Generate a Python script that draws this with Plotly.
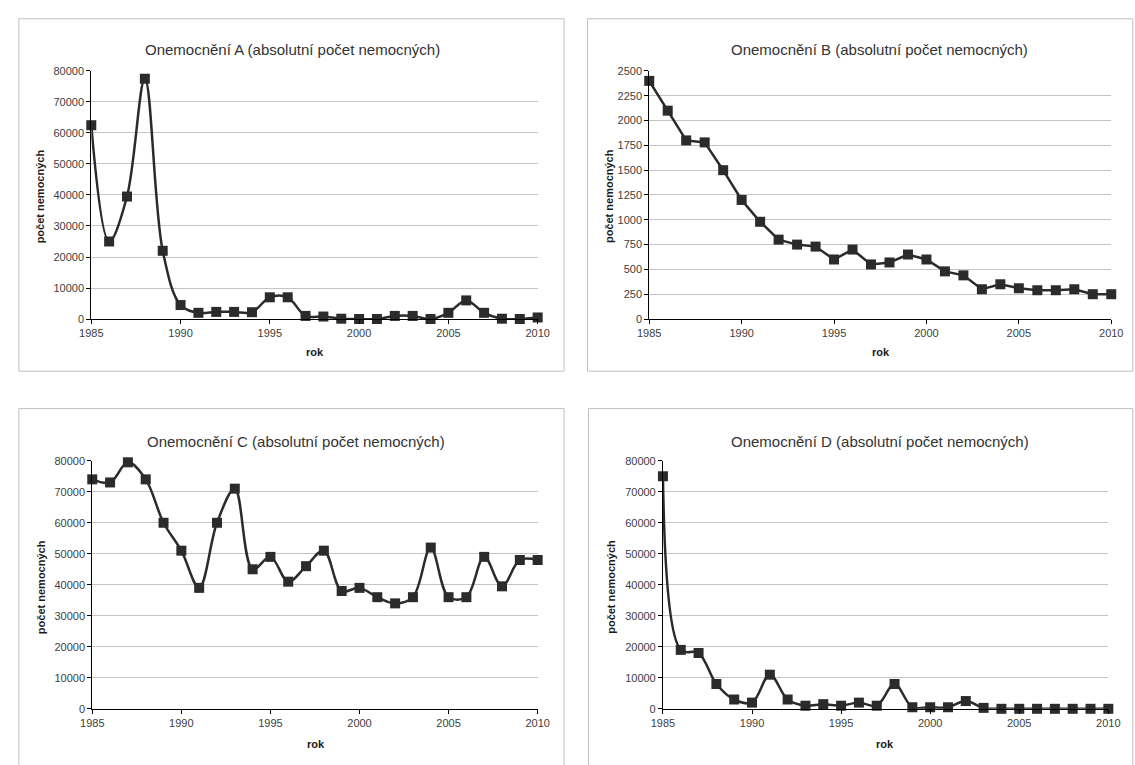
import plotly.graph_objects as go

# ---------------- data ----------------
years = list(range(1985, 2011))

values_a = [62500, 25000, 39500, 77500, 22000, 4500, 2000, 2300, 2300, 2200,
            7000, 7000, 1000, 800, 100, 0, 0, 1000, 1000, 0,
            2000, 6000, 2000, 100, 0, 500]

values_b = [2400, 2100, 1800, 1780, 1500, 1200, 980, 800, 750, 730,
            600, 700, 550, 570, 650, 600, 480, 440, 300, 350,
            310, 290, 290, 300, 250, 250]

values_c = [74000, 73000, 79500, 74000, 60000, 51000, 39000, 60000, 71000, 45000,
            49000, 41000, 46000, 51000, 38000, 39000, 36000, 34000, 36000, 52000,
            36000, 36000, 49000, 39500, 48000, 48000]

values_d = [75000, 19000, 18000, 8000, 3000, 2000, 11000, 3000, 1000, 1500,
            1000, 2000, 1000, 8000, 500, 500, 500, 2500, 300, 0,
            0, 0, 0, 0, 0, 0]

titles = ["Onemocnění A (absolutní počet nemocných)",
          "Onemocnění B (absolutní počet nemocných)",
          "Onemocnění C (absolutní počet nemocných)",
          "Onemocnění D (absolutní počet nemocných)"]
x_title = "rok"
y_title = "počet nemocných"
x_ticks = [1985, 1990, 1995, 2000, 2005, 2010]
y_max = [80000, 2500, 80000, 80000]
y_step = [10000, 250, 10000, 10000]

# ---------------- layout helpers (pixel -> paper) ----------------
W, H = 1135, 765
def px(x):
    return x / W
def py(y):
    return 1 - y / H

FONT = "Liberation Sans, Arial, sans-serif"
LINE = "#2b2b2b"

# plot area pixel boxes: (x0, x1, ytop, ybottom)
areas = [(81, 537, 66, 318), (651, 1123, 66, 318),
         (82, 537, 462, 714), (665, 1120, 462, 714)]
frames = [(7, 13, 564, 371), (588, 13, 1145, 371),
          (7, 409, 564, 775), (589, 409, 1145, 775)]
title_pos = [(287, 44), (886, 44), (290, 442), (887, 442)]
xlab_pos = [(310, 352), (888, 352), (311, 750), (892, 750)]
ylab_pos = [(29, 193), (610, 193), (29, 590), (612, 590)]
smooth = [True, False, True, True]

series = [values_a, values_b, values_c, values_d]

fig = go.Figure()
layout = dict(width=W, height=H, autosize=False,
              margin=dict(l=0, r=0, t=0, b=0),
              paper_bgcolor="white", plot_bgcolor="white",
              showlegend=False, font=dict(family=FONT, size=11, color="#404040"))

shapes = []
annotations = []
for i, (vals, area) in enumerate(zip(series, areas)):
    n = "" if i == 0 else str(i + 1)
    x0, x1, yt, yb = area
    line = dict(color=LINE, width=2.5)
    if smooth[i]:
        line.update(shape="spline", smoothing=1.0)
    fig.add_trace(go.Scatter(
        x=years, y=vals, mode="lines+markers",
        line=line,
        marker=dict(symbol="square", size=10, color=LINE),
        cliponaxis=False,
        xaxis="x" + n, yaxis="y" + n))
    layout["xaxis" + n] = dict(
        domain=[px(x0), px(x1)], anchor="y" + n, range=[1985, 2010],
        tickvals=x_ticks, ticks="outside", ticklen=4, tickcolor="black",
        showline=True, linecolor="black", linewidth=1,
        showgrid=False, zeroline=False,
        tickfont=dict(family=FONT, size=11, color="#404040"))
    layout["yaxis" + n] = dict(
        domain=[py(yb), py(yt)], anchor="x" + n, range=[0, y_max[i]],
        dtick=y_step[i], tick0=0, ticks="outside", ticklen=4, tickcolor="black",
        showline=True, linecolor="black", linewidth=1,
        showgrid=True, gridcolor="#c4c4c4", gridwidth=1, zeroline=False,
        tickformat="d",
        tickfont=dict(family=FONT, size=11, color="#404040"))
    fx0, fy0, fx1, fy1 = frames[i]
    shapes.append(dict(type="rect", xref="paper", yref="paper",
                       x0=px(fx0), x1=px(fx1), y0=py(fy1), y1=py(fy0),
                       line=dict(color="#c0c0c0", width=1), layer="below"))
    tx, ty = title_pos[i]
    annotations.append(dict(text=titles[i], xref="paper", yref="paper",
                            x=px(tx), y=py(ty), xanchor="center", yanchor="middle",
                            showarrow=False,
                            font=dict(family=FONT, size=15, color="#333333")))
    lx, ly = xlab_pos[i]
    annotations.append(dict(text="<b>" + x_title + "</b>", xref="paper", yref="paper",
                            x=px(lx), y=py(ly), xanchor="center", yanchor="middle",
                            showarrow=False,
                            font=dict(family=FONT, size=11, color="#1a1a1a")))
    vx, vy = ylab_pos[i]
    annotations.append(dict(text="<b>" + y_title + "</b>", xref="paper", yref="paper",
                            x=px(vx), y=py(vy), xanchor="center", yanchor="middle",
                            textangle=-90, showarrow=False,
                            font=dict(family=FONT, size=11, color="#1a1a1a")))

layout["shapes"] = shapes
layout["annotations"] = annotations
fig.update_layout(**layout)

fig.write_html("out.html", config={"displayModeBar": False},
               post_script="document.body.style.margin='0';document.body.style.overflow='hidden';")
